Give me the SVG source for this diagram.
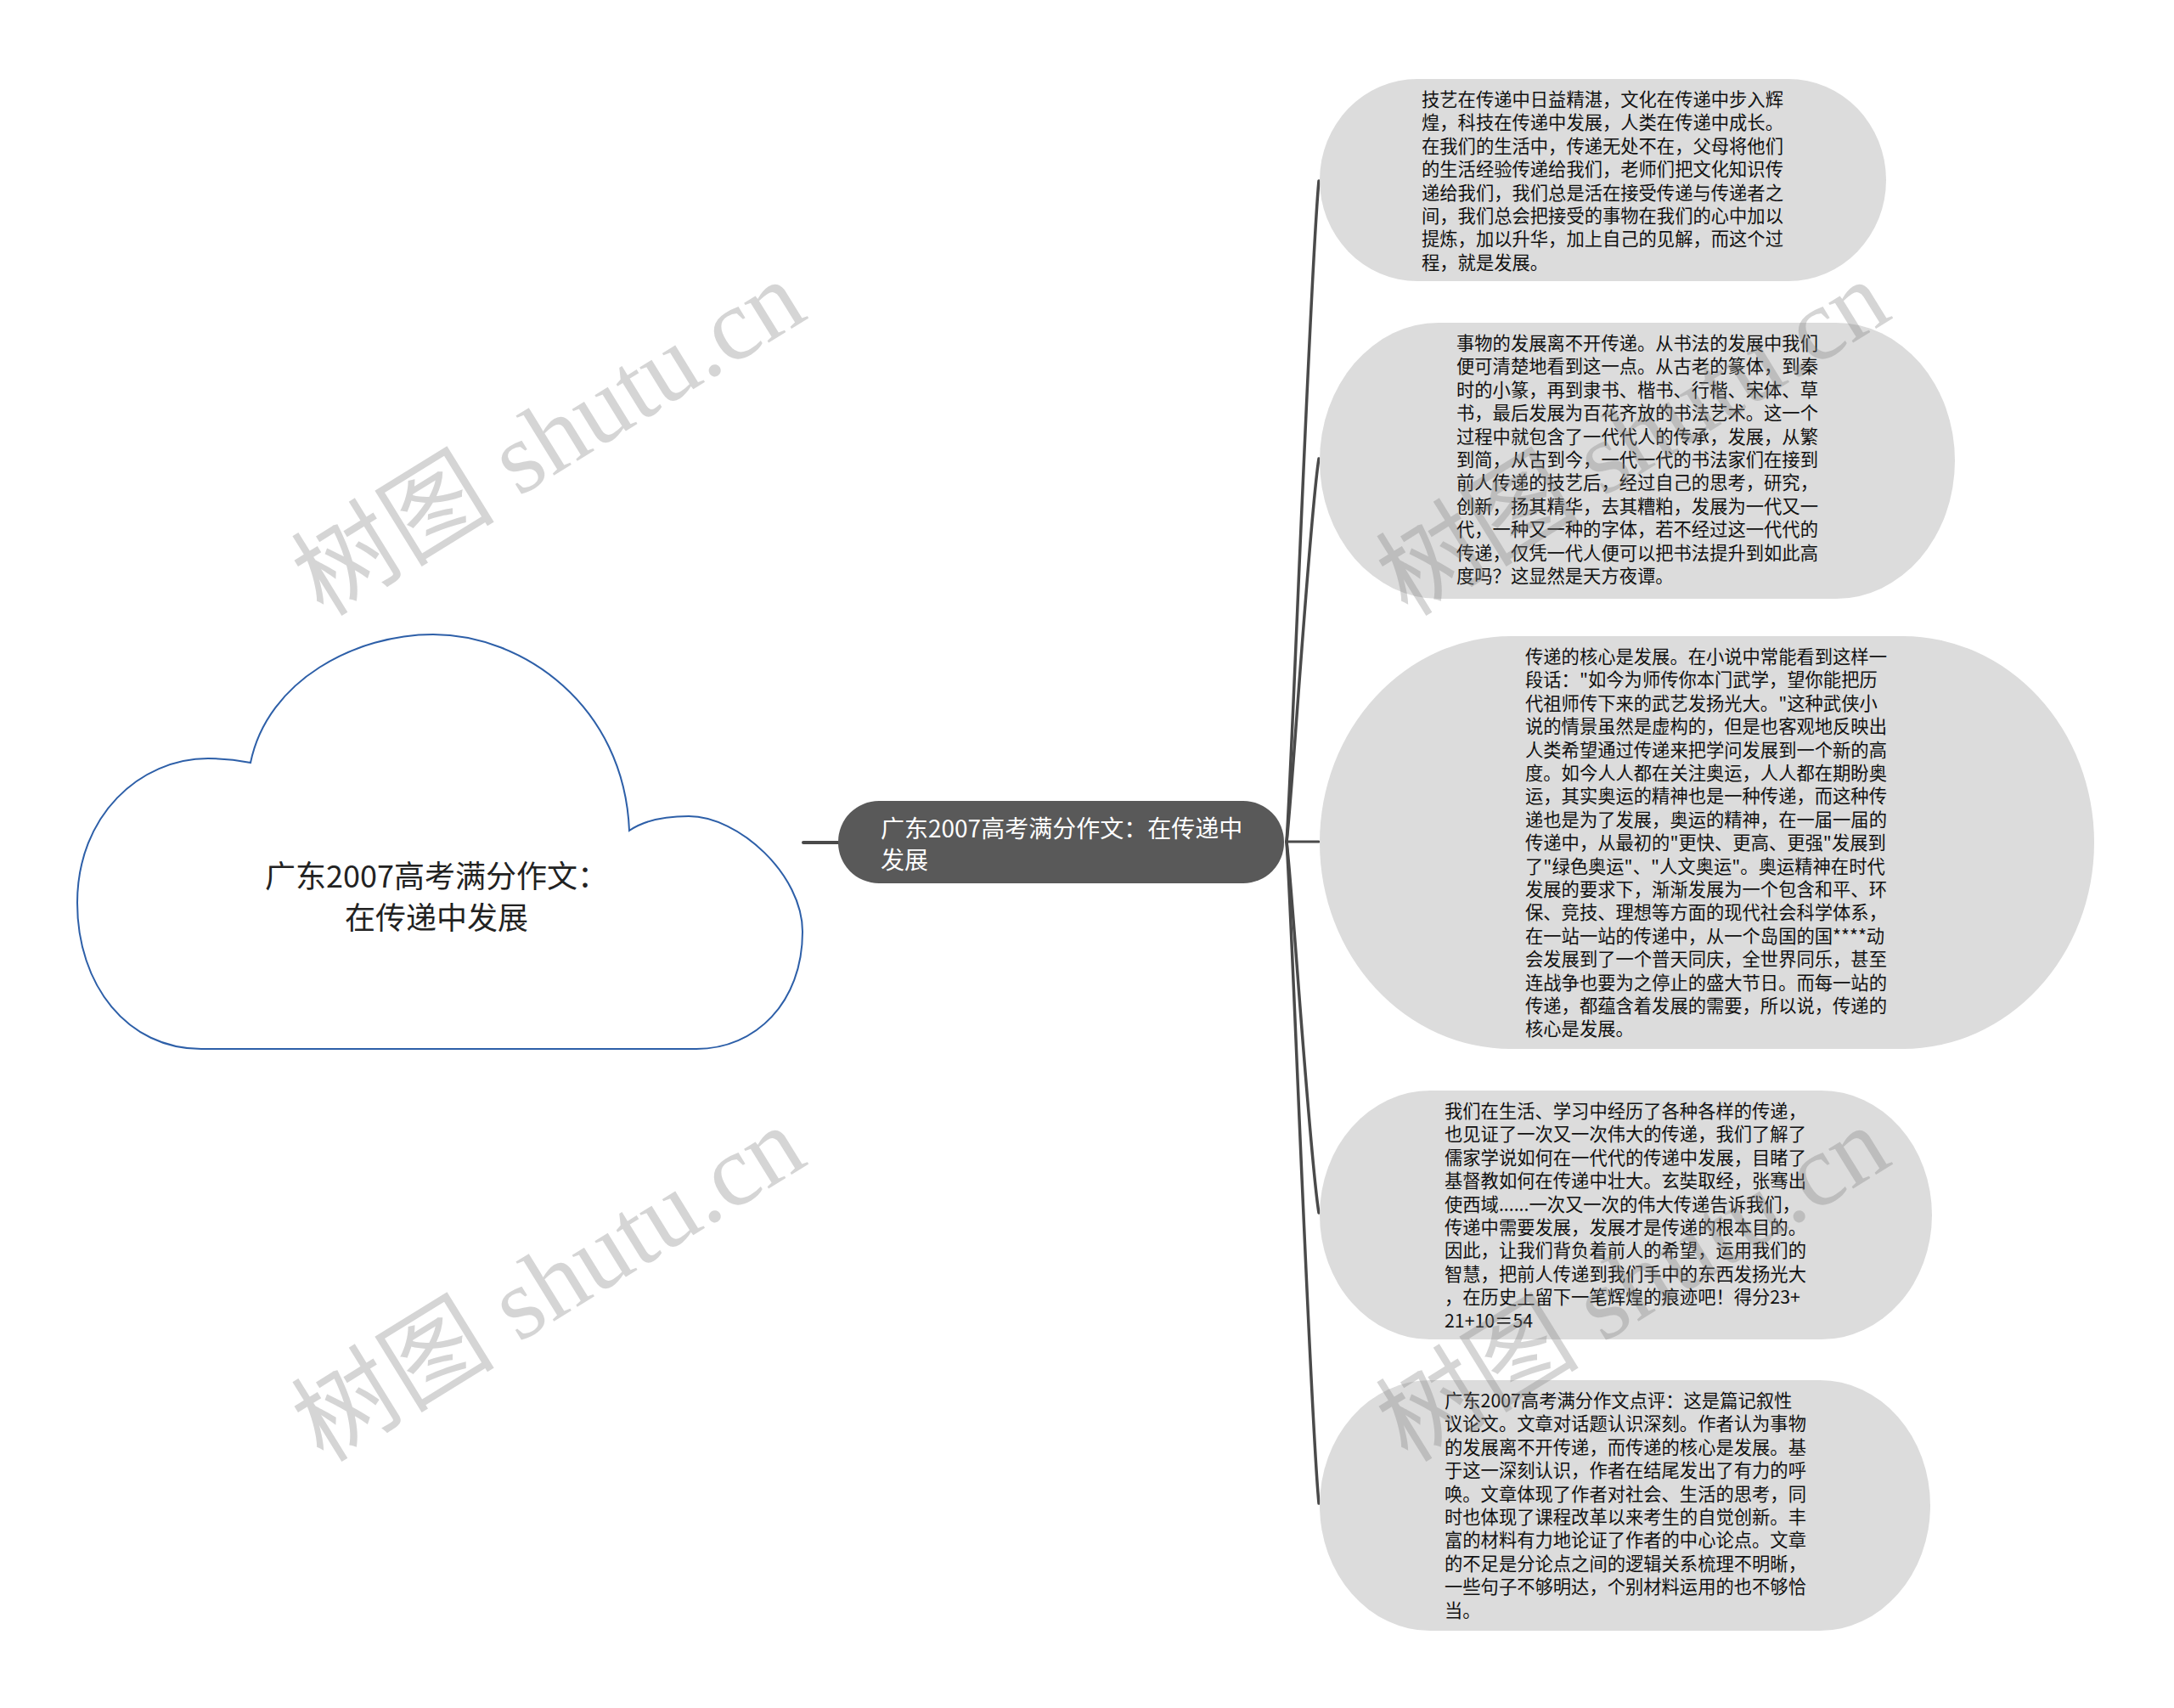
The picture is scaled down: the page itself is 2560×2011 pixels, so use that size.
<svg xmlns="http://www.w3.org/2000/svg" width="2560" height="2011" viewBox="0 0 2560 2011">
<defs>
<style>
.bg{fill:#ffffff}
.cloud{fill:#ffffff;stroke:#2d5fa8;stroke-width:2}
.ctext{font-family:"Noto Sans CJK SC","Noto Sans",sans-serif;font-size:36px;fill:#222222}
.center{fill:#595959}
.mtext{font-family:"Noto Sans CJK SC","Noto Sans",sans-serif;font-size:28px;fill:#ffffff}
.leaf{fill:#dcdcdc}
.ltext{font-family:"Noto Sans CJK SC","Noto Sans",sans-serif;font-size:21.3px;fill:#111111}
.conn{fill:none;stroke:#4a4a4a;stroke-linecap:round}
.wm{font-family:"Liberation Serif","Noto Sans CJK SC",serif;font-size:120px;fill:#808080;fill-opacity:0.33}
</style>
</defs>
<rect class="bg" x="0" y="0" width="2560" height="2011"/>

<g id="connectors">
<path class="conn" stroke-width="4" d="M946,992 L988,992"/>
<path class="conn" stroke-width="3" d="M1515,991 L1553,991"/>
<path class="conn" stroke-width="3.5" d="M1515,991 C1521,913 1542,330 1553,213"/>
<path class="conn" stroke-width="3.5" d="M1515,991 C1521,946 1542,608 1553,540"/>
<path class="conn" stroke-width="3.5" d="M1515,991 C1521,1035 1542,1362 1553,1428"/>
<path class="conn" stroke-width="3.5" d="M1515,991 C1521,1069 1542,1655 1553,1770"/>
</g>

<g id="root">
<path class="cloud" d="M237,1235 C150,1235 91,1160 91,1063 C91,960 165,893 245,893 C265,893 285,896 295,898 C315,800 420,747 510,747 C615,747 735,830 741,978 C760,965 785,961 811,961 C870,961 945,1030 945,1097 C945,1180 890,1235 820,1235 Z"/>
<text class="ctext" text-anchor="middle"><tspan x="514" y="1045">广东2007高考满分作文：</tspan><tspan x="514" y="1094">在传递中发展</tspan></text>
</g>

<g id="main">
<rect class="center" x="987" y="943" width="525" height="97" rx="48" ry="48"/>
<text class="mtext"><tspan x="1037" y="986">广东2007高考满分作文：在传递中</tspan><tspan x="1037" y="1023">发展</tspan></text>
</g>

<g id="leaf1">
<rect class="leaf" x="1554" y="93" width="667" height="238" rx="115" ry="119"/>
<text class="ltext">
<tspan x="1674" y="125">技艺在传递中日益精湛，文化在传递中步入辉</tspan>
<tspan x="1674" y="152.4">煌，科技在传递中发展，人类在传递中成长。</tspan>
<tspan x="1674" y="179.8">在我们的生活中，传递无处不在，父母将他们</tspan>
<tspan x="1674" y="207.2">的生活经验传递给我们，老师们把文化知识传</tspan>
<tspan x="1674" y="234.6">递给我们，我们总是活在接受传递与传递者之</tspan>
<tspan x="1674" y="262">间，我们总会把接受的事物在我们的心中加以</tspan>
<tspan x="1674" y="289.4">提炼，加以升华，加上自己的见解，而这个过</tspan>
<tspan x="1674" y="316.8">程，就是发展。</tspan>
</text>
</g>

<g id="leaf2">
<rect class="leaf" x="1554" y="380" width="748" height="325" rx="140" ry="162.5"/>
<text class="ltext">
<tspan x="1715" y="412">事物的发展离不开传递。从书法的发展中我们</tspan>
<tspan x="1715" y="439.4">便可清楚地看到这一点。从古老的篆体，到秦</tspan>
<tspan x="1715" y="466.8">时的小篆，再到隶书、楷书、行楷、宋体、草</tspan>
<tspan x="1715" y="494.2">书，最后发展为百花齐放的书法艺术。这一个</tspan>
<tspan x="1715" y="521.6">过程中就包含了一代代人的传承，发展，从繁</tspan>
<tspan x="1715" y="549">到简，从古到今，一代一代的书法家们在接到</tspan>
<tspan x="1715" y="576.4">前人传递的技艺后，经过自己的思考，研究，</tspan>
<tspan x="1715" y="603.8">创新，扬其精华，去其糟粕，发展为一代又一</tspan>
<tspan x="1715" y="631.2">代，一种又一种的字体，若不经过这一代代的</tspan>
<tspan x="1715" y="658.6">传递，仅凭一代人便可以把书法提升到如此高</tspan>
<tspan x="1715" y="686">度吗？这显然是天方夜谭。</tspan>
</text>
</g>

<g id="leaf3">
<rect class="leaf" x="1554" y="749" width="912" height="486" rx="225" ry="243"/>
<text class="ltext">
<tspan x="1796" y="781">传递的核心是发展。在小说中常能看到这样一</tspan>
<tspan x="1796" y="808.4">段话："如今为师传你本门武学，望你能把历</tspan>
<tspan x="1796" y="835.8">代祖师传下来的武艺发扬光大。"这种武侠小</tspan>
<tspan x="1796" y="863.2">说的情景虽然是虚构的，但是也客观地反映出</tspan>
<tspan x="1796" y="890.6">人类希望通过传递来把学问发展到一个新的高</tspan>
<tspan x="1796" y="918">度。如今人人都在关注奥运，人人都在期盼奥</tspan>
<tspan x="1796" y="945.4">运，其实奥运的精神也是一种传递，而这种传</tspan>
<tspan x="1796" y="972.8">递也是为了发展，奥运的精神，在一届一届的</tspan>
<tspan x="1796" y="1000.2">传递中，从最初的"更快、更高、更强"发展到</tspan>
<tspan x="1796" y="1027.6">了"绿色奥运"、"人文奥运"。奥运精神在时代</tspan>
<tspan x="1796" y="1055">发展的要求下，渐渐发展为一个包含和平、环</tspan>
<tspan x="1796" y="1082.4">保、竞技、理想等方面的现代社会科学体系，</tspan>
<tspan x="1796" y="1109.8">在一站一站的传递中，从一个岛国的国****动</tspan>
<tspan x="1796" y="1137.2">会发展到了一个普天同庆，全世界同乐，甚至</tspan>
<tspan x="1796" y="1164.6">连战争也要为之停止的盛大节日。而每一站的</tspan>
<tspan x="1796" y="1192">传递，都蕴含着发展的需要，所以说，传递的</tspan>
<tspan x="1796" y="1219.4">核心是发展。</tspan>
</text>
</g>

<g id="leaf4">
<rect class="leaf" x="1554" y="1284" width="721" height="293" rx="130" ry="146.5"/>
<text class="ltext">
<tspan x="1701" y="1316">我们在生活、学习中经历了各种各样的传递，</tspan>
<tspan x="1701" y="1343.4">也见证了一次又一次伟大的传递，我们了解了</tspan>
<tspan x="1701" y="1370.8">儒家学说如何在一代代的传递中发展，目睹了</tspan>
<tspan x="1701" y="1398.2">基督教如何在传递中壮大。玄奘取经，张骞出</tspan>
<tspan x="1701" y="1425.6">使西域......一次又一次的伟大传递告诉我们，</tspan>
<tspan x="1701" y="1453">传递中需要发展，发展才是传递的根本目的。</tspan>
<tspan x="1701" y="1480.4">因此，让我们背负着前人的希望，运用我们的</tspan>
<tspan x="1701" y="1507.8">智慧，把前人传递到我们手中的东西发扬光大</tspan>
<tspan x="1701" y="1535.2">，在历史上留下一笔辉煌的痕迹吧！得分23+</tspan>
<tspan x="1701" y="1562.6">21+10＝54</tspan>
</text>
</g>

<g id="leaf5">
<rect class="leaf" x="1554" y="1625" width="719" height="295" rx="130" ry="147.5"/>
<text class="ltext">
<tspan x="1701" y="1657">广东2007高考满分作文点评：这是篇记叙性</tspan>
<tspan x="1701" y="1684.4">议论文。文章对话题认识深刻。作者认为事物</tspan>
<tspan x="1701" y="1711.8">的发展离不开传递，而传递的核心是发展。基</tspan>
<tspan x="1701" y="1739.2">于这一深刻认识，作者在结尾发出了有力的呼</tspan>
<tspan x="1701" y="1766.6">唤。文章体现了作者对社会、生活的思考，同</tspan>
<tspan x="1701" y="1794">时也体现了课程改革以来考生的自觉创新。丰</tspan>
<tspan x="1701" y="1821.4">富的材料有力地论证了作者的中心论点。文章</tspan>
<tspan x="1701" y="1848.8">的不足是分论点之间的逻辑关系梳理不明晰，</tspan>
<tspan x="1701" y="1876.2">一些句子不够明达，个别材料运用的也不够恰</tspan>
<tspan x="1701" y="1903.6">当。</tspan>
</text>
</g>

<g id="watermarks">
<text class="wm" text-anchor="middle" dominant-baseline="central" transform="translate(646,516) rotate(-31.7)">树图 shutu.cn</text>
<text class="wm" text-anchor="middle" dominant-baseline="central" transform="translate(646,1512) rotate(-31.7)">树图 shutu.cn</text>
<text class="wm" text-anchor="middle" dominant-baseline="central" transform="translate(1923,516) rotate(-31.7)">树图 shutu.cn</text>
<text class="wm" text-anchor="middle" dominant-baseline="central" transform="translate(1923,1512) rotate(-31.7)">树图 shutu.cn</text>
</g>
</svg>
